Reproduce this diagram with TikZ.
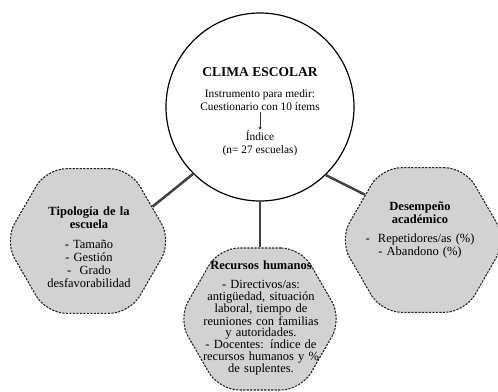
\documentclass[tikz,border=0pt]{standalone}
\usepackage{fontspec}
\setmainfont{Liberation Serif}
\usetikzlibrary{shapes.geometric,arrows.meta}

\begin{document}
\begin{tikzpicture}[x=1pt,y=-1pt,
    hexbox/.style={regular polygon,regular polygon sides=6,minimum size=167pt,inner sep=0pt,
                   draw=black!85,fill=gray!35,line width=1.1pt,dash pattern=on 2.2pt off 1.3pt,
                   rounded corners=20pt},
    link/.style={draw=black!75,line width=2.5pt},
    hextext/.style={align=center,text width=145pt,inner sep=0pt,font=\fontsize{12.5}{12.9}\selectfont}]
  \useasboundingbox (0,0) rectangle (498,391);

% central circle
  \node[circle,draw=black,line width=1.2pt,fill=white,minimum size=188pt] (clima) at (260,107) {};
  \node[font=\bfseries\fontsize{13.5}{15}\selectfont] (titulo) at (260,72) {CLIMA ESCOLAR};
  \node[align=center,inner sep=1pt,font=\fontsize{11.4}{13}\selectfont] (instr) at (260,100.5)
       {Instrumento para medir:\\Cuestionario con 10 ítems};
  \node[align=center,inner sep=1pt,font=\fontsize{11.4}{13}\selectfont] (indice) at (260,143.5)
       {Índice\\(n= 27 escuelas)};
  \draw[black!80,line width=0.8pt,-{Stealth[length=3pt,width=3.5pt]}] (instr) -- (indice);

% hexagons
  \node[hexbox] (tipo) at (88,241) {};
  \node[hexbox,minimum size=164pt] (recursos) at (260,319) {};
  \node[hexbox] (desempeno) at (423,240) {};

% links
  \draw[link] (clima.225) -- (tipo.28);
  \draw[link] (clima.south) -- (recursos.north);
  \draw[link] (clima.314) -- (desempeno.142);

% hexagon texts
  \node[hextext] (tipotxt) at (89,247)
       {\textbf{Tipología de la}\\\textbf{escuela}\\[7pt]- Tamaño\\- Gestión\\-\ \ Grado\\desfavorabilidad};
  \node[hextext,font=\fontsize{12.5}{11.3}\selectfont] (recursostxt) at (261,318)
       {\textbf{Recursos humanos}\\[8pt]- Directivos/as:\\antigüedad, situación\\laboral, tiempo de\\reuniones con familias\\y autoridades.\\- Docentes: índice de\\recursos humanos y \%\\de suplentes.};
  \node[hextext] (desempenotxt) at (420,230)
       {\textbf{Desempeño}\\\textbf{académico}\\[7pt]-\ \ Repetidores/as (\%)\\- Abandono (\%)};

\end{tikzpicture}
\end{document}
